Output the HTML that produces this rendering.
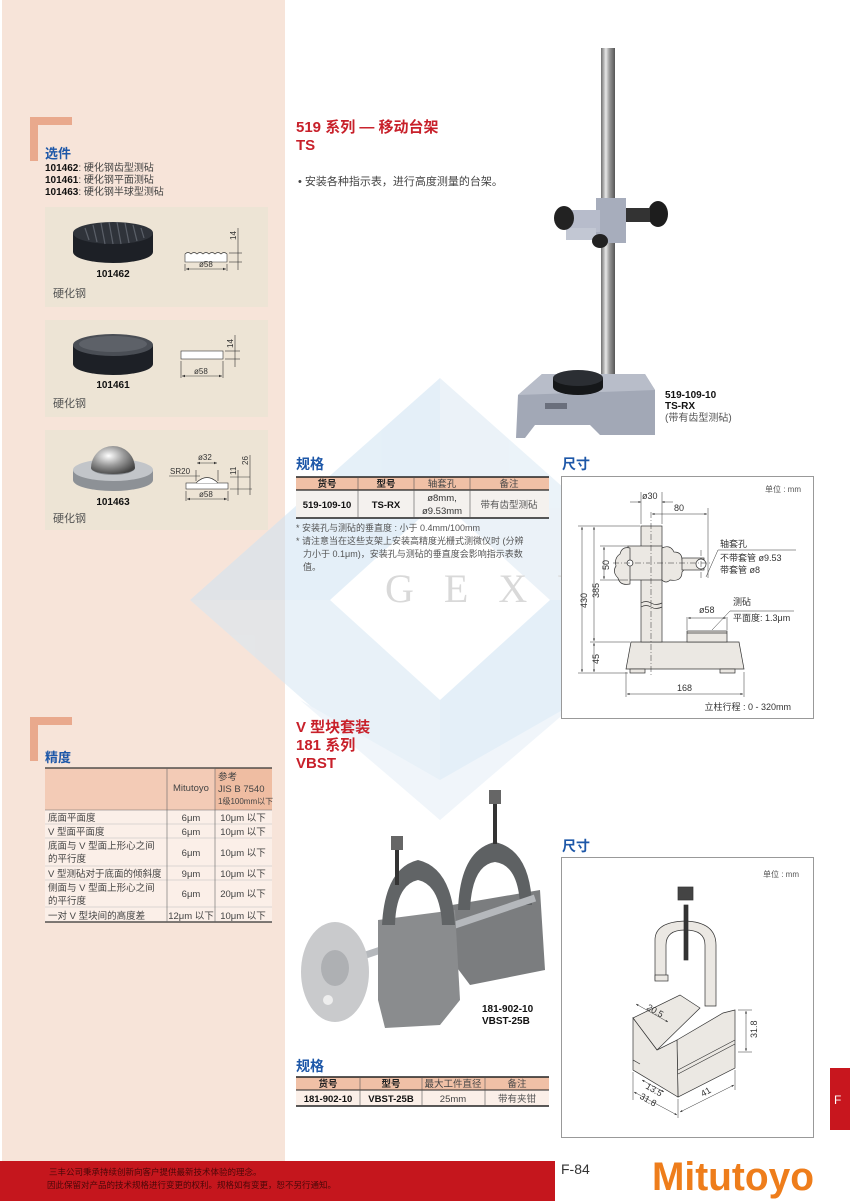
<!DOCTYPE html>
<html><head><meta charset="utf-8"><style>
html,body{margin:0;padding:0;background:#fff}
svg{display:block}
text{font-family:"Liberation Sans","Noto Sans CJK SC",sans-serif}
</style></head><body>
<svg width="850" height="1201" viewBox="0 0 850 1201" xmlns="http://www.w3.org/2000/svg">
<defs>
<linearGradient id="pole" x1="0" x2="1"><stop offset="0" stop-color="#6f6f6f"/><stop offset=".35" stop-color="#e8e8e8"/><stop offset=".6" stop-color="#9a9a9a"/><stop offset="1" stop-color="#555"/></linearGradient>
<linearGradient id="steel" x1="0" x2="1"><stop offset="0" stop-color="#777"/><stop offset=".5" stop-color="#b8b8b8"/><stop offset="1" stop-color="#6a6a6a"/></linearGradient>
<radialGradient id="ball" cx=".4" cy=".35" r=".7"><stop offset="0" stop-color="#fff"/><stop offset=".5" stop-color="#9a9a9a"/><stop offset="1" stop-color="#444"/></radialGradient>
<marker id="ar" markerWidth="6" markerHeight="6" refX="5" refY="3" orient="auto-start-reverse"><path d="M0,1 L5,3 L0,5 z" fill="#333"/></marker>
</defs>

<!-- left panel -->
<rect x="2" y="0" width="283" height="1161" fill="#f7e4d9"/>

<!-- watermark -->
<g opacity="0.55">
<polygon points="440,378 190,600 330,600 440,500" fill="#cfe3f3"/>
<polygon points="440,378 690,600 550,600 440,500" fill="#dbe9f4"/>
<polygon points="190,600 440,820 440,700 330,600" fill="#d6e7f4"/>
<polygon points="690,600 440,820 440,700 550,600" fill="#cfe3f3"/>
<polygon points="300,700 440,820 580,700 440,780" fill="#e4eef7"/>
</g>
<text x="385" y="602" font-family="Liberation Serif,serif" font-size="40" fill="#d9d9d9" letter-spacing="30" style="font-family:'Liberation Serif',serif">GEXU</text>

<!-- 选件 -->
<rect x="30" y="117" width="42" height="8" fill="#e9a98d"/>
<rect x="30" y="117" width="8" height="44" fill="#e9a98d"/>
<text x="45" y="158" font-size="13" font-weight="bold" fill="#1d57a8">选件</text>
<g font-size="10" fill="#444">
<text x="45" y="171"><tspan font-weight="bold" fill="#111">101462</tspan>: 硬化钢齿型测砧</text>
<text x="45" y="183"><tspan font-weight="bold" fill="#111">101461</tspan>: 硬化钢平面测砧</text>
<text x="45" y="195"><tspan font-weight="bold" fill="#111">101463</tspan>: 硬化钢半球型测砧</text>
</g>

<!-- box 1 -->
<rect x="45" y="207" width="223" height="100" fill="#ede4d5"/>
<path d="M73,233 L73,252 A40,11 0 0 0 153,252 L153,233 Z" fill="#1d2026"/>
<ellipse cx="113" cy="233" rx="40" ry="11" fill="#2f333a"/>
<g stroke="#5a5f68" stroke-width="1.2">
<line x1="85" y1="228" x2="89" y2="240"/><line x1="93" y1="225" x2="97" y2="242"/><line x1="101" y1="223" x2="105" y2="244"/><line x1="109" y1="222" x2="113" y2="244"/><line x1="117" y1="222" x2="121" y2="244"/><line x1="125" y1="223" x2="129" y2="243"/><line x1="133" y1="225" x2="137" y2="241"/><line x1="141" y1="228" x2="144" y2="238"/>
</g>
<text x="113" y="277" font-size="10" font-weight="bold" text-anchor="middle" fill="#111">101462</text>
<text x="53" y="297" font-size="11" fill="#555">硬化钢</text>
<g stroke="#333" stroke-width=".6" fill="none">
<path d="M185,254 q3,-3 6,0 q3,-3 6,0 q3,-3 6,0 q3,-3 6,0 q3,-3 6,0 q3,-3 6,0 q3,-3 6,0 L227,262 L185,262 Z" fill="#fff"/>
<line x1="185" y1="264" x2="185" y2="271"/><line x1="227" y1="264" x2="227" y2="271"/>
<line x1="186" y1="269" x2="226" y2="269" marker-start="url(#ar)" marker-end="url(#ar)"/>
<line x1="229" y1="253" x2="242" y2="253"/><line x1="229" y1="262" x2="242" y2="262"/>
<line x1="238" y1="228" x2="238" y2="270"/>
</g>
<text x="199" y="267" font-size="8" fill="#333">ø58</text>
<text transform="translate(236,240) rotate(-90)" font-size="8" fill="#333">14</text>

<!-- box 2 -->
<rect x="45" y="320" width="223" height="97" fill="#ede4d5"/>
<path d="M73,345 L73,364 A40,11 0 0 0 153,364 L153,345 Z" fill="#1d2026"/>
<ellipse cx="113" cy="345" rx="40" ry="11" fill="#4a4e55"/>
<ellipse cx="113" cy="344" rx="34" ry="8" fill="#5d6168"/>
<text x="113" y="388" font-size="10" font-weight="bold" text-anchor="middle" fill="#111">101461</text>
<text x="53" y="407" font-size="11" fill="#555">硬化钢</text>
<g stroke="#333" stroke-width=".6" fill="none">
<rect x="181" y="351" width="42" height="8" fill="#fff"/>
<line x1="181" y1="361" x2="181" y2="378"/><line x1="223" y1="361" x2="223" y2="378"/>
<line x1="182" y1="376" x2="222" y2="376" marker-start="url(#ar)" marker-end="url(#ar)"/>
<line x1="225" y1="351" x2="240" y2="351"/><line x1="225" y1="359" x2="240" y2="359"/>
<line x1="235" y1="335" x2="235" y2="367"/>
</g>
<text x="194" y="374" font-size="8" fill="#333">ø58</text>
<text transform="translate(233,348) rotate(-90)" font-size="8" fill="#333">14</text>

<!-- box 3 -->
<rect x="45" y="430" width="223" height="100" fill="#ede4d5"/>
<path d="M73,470 L73,480 A40,11 0 0 0 153,480 L153,470 Z" fill="#8d9196"/>
<ellipse cx="113" cy="470" rx="40" ry="11" fill="#c2c5c9"/>
<ellipse cx="113" cy="468" rx="22" ry="7" fill="#8a8e93"/>
<path d="M91,468 A22,22 0 0 1 135,468 A22,6 0 0 1 91,468 Z" fill="url(#ball)"/>
<text x="113" y="505" font-size="10" font-weight="bold" text-anchor="middle" fill="#111">101463</text>
<text x="53" y="522" font-size="11" fill="#555">硬化钢</text>
<g stroke="#333" stroke-width=".6" fill="none">
<rect x="186" y="483" width="42" height="6" fill="#fff"/>
<path d="M196,483 Q207,472 218,483" fill="#fff"/>
<line x1="196" y1="470" x2="196" y2="481"/><line x1="218" y1="470" x2="218" y2="481"/>
<line x1="197" y1="463" x2="217" y2="463" marker-start="url(#ar)" marker-end="url(#ar)"/>
<line x1="186" y1="491" x2="186" y2="501"/><line x1="228" y1="491" x2="228" y2="501"/>
<line x1="187" y1="499" x2="227" y2="499" marker-start="url(#ar)" marker-end="url(#ar)"/>
<line x1="169" y1="476" x2="200" y2="476"/>
<line x1="230" y1="477" x2="250" y2="477"/><line x1="230" y1="489" x2="252" y2="489"/>
<line x1="238" y1="470" x2="238" y2="495"/><line x1="250" y1="455" x2="250" y2="495"/>
</g>
<text x="198" y="460" font-size="8" fill="#333">ø32</text>
<text x="170" y="474" font-size="8" fill="#333">SR20</text>
<text x="199" y="497" font-size="8" fill="#333">ø58</text>
<text transform="translate(236,475) rotate(-90)" font-size="8" fill="#333">11</text>
<text transform="translate(248,465) rotate(-90)" font-size="8" fill="#333">26</text>

<!-- 精度 -->
<rect x="30" y="717" width="42" height="8" fill="#e9a98d"/>
<rect x="30" y="717" width="8" height="44" fill="#e9a98d"/>
<text x="45" y="762" font-size="13" font-weight="bold" fill="#1d57a8">精度</text>
<rect x="45" y="768" width="227" height="42" fill="#f3cbb6"/>
<rect x="215" y="768" width="57" height="42" fill="#efbda2"/>
<rect x="45" y="810" width="227" height="112" fill="#fbefe8"/>
<g stroke="#666" stroke-width=".6">
<line x1="45" y1="768" x2="272" y2="768" stroke="#333" stroke-width="1.2"/>
<line x1="45" y1="810" x2="272" y2="810"/>
<line x1="45" y1="824" x2="272" y2="824" stroke="#bbb"/>
<line x1="45" y1="838" x2="272" y2="838" stroke="#bbb"/>
<line x1="45" y1="866" x2="272" y2="866" stroke="#bbb"/>
<line x1="45" y1="880" x2="272" y2="880" stroke="#bbb"/>
<line x1="45" y1="907" x2="272" y2="907" stroke="#bbb"/>
<line x1="45" y1="922" x2="272" y2="922" stroke="#333" stroke-width="1.2"/>
<line x1="167" y1="768" x2="167" y2="922"/>
<line x1="215" y1="768" x2="215" y2="922"/>
</g>
<g font-size="9.5" fill="#444">
<text x="173" y="791">Mitutoyo</text>
<text x="218" y="780">参考</text>
<text x="218" y="792">JIS B 7540</text>
<text x="218" y="804" font-size="8">1级100mm以下</text>
<text x="48" y="821">底面平面度</text>
<text x="48" y="835">V 型面平面度</text>
<text x="48" y="849">底面与 V 型面上形心之间</text>
<text x="48" y="862">的平行度</text>
<text x="48" y="877">V 型测砧对于底面的倾斜度</text>
<text x="48" y="891">侧面与 V 型面上形心之间</text>
<text x="48" y="904">的平行度</text>
<text x="48" y="919">一对 V 型块间的高度差</text>
<g text-anchor="middle">
<text x="191" y="821">6μm</text><text x="243" y="821">10μm 以下</text>
<text x="191" y="835">6μm</text><text x="243" y="835">10μm 以下</text>
<text x="191" y="856">6μm</text><text x="243" y="856">10μm 以下</text>
<text x="191" y="877">9μm</text><text x="243" y="877">10μm 以下</text>
<text x="191" y="897">6μm</text><text x="243" y="897">20μm 以下</text>
<text x="191" y="919">12μm 以下</text><text x="243" y="919">10μm 以下</text>
</g></g>

<!-- TS title -->
<text x="296" y="132" font-size="15" font-weight="bold" fill="#c8202a">519 系列 — 移动台架</text>
<text x="296" y="150" font-size="15" font-weight="bold" fill="#c8202a">TS</text>
<text x="298" y="185" font-size="11" fill="#444">• 安装各种指示表，进行高度测量的台架。</text>

<!-- stand photo -->
<rect x="601" y="48" width="14" height="336" fill="url(#pole)"/>
<polygon points="518,395 542,374 645,374 655,390 655,435 600,435 590,425 535,425 525,438 516,438" fill="#a2a8b6"/>
<polygon points="518,395 542,374 645,374 655,390" fill="#b8bdc9"/>
<rect x="545" y="403" width="22" height="6" fill="#6a6f7c"/>
<path d="M553,378 L553,387 A25,8 0 0 0 603,387 L603,378 Z" fill="#151719"/>
<ellipse cx="578" cy="378" rx="25" ry="8" fill="#2b2e33"/>
<rect x="596" y="198" width="30" height="45" fill="#a7adbc"/>
<rect x="570" y="210" width="30" height="22" fill="#b7bccb"/>
<rect x="566" y="228" width="30" height="12" fill="#c2c7d3"/>
<ellipse cx="564" cy="218" rx="10" ry="12" fill="#222"/>
<ellipse cx="658" cy="214" rx="10" ry="13" fill="#1d1d1d"/>
<rect x="626" y="208" width="24" height="14" fill="#333"/>
<ellipse cx="600" cy="241" rx="8" ry="7" fill="#222"/>
<text x="665" y="398" font-size="10" font-weight="bold" fill="#111">519-109-10</text>
<text x="665" y="409" font-size="10" font-weight="bold" fill="#111">TS-RX</text>
<text x="665" y="421" font-size="10" fill="#555">(带有齿型测砧)</text>

<!-- 规格 1 -->
<text x="296" y="469" font-size="14" font-weight="bold" fill="#1d57a8">规格</text>
<rect x="296" y="477" width="253" height="13" fill="#f0c0a6"/>
<rect x="296" y="490" width="253" height="28" fill="#f4f1ee"/>
<g stroke="#555" stroke-width=".6">
<line x1="296" y1="477" x2="549" y2="477" stroke="#222" stroke-width="1.5"/>
<line x1="296" y1="490" x2="549" y2="490" stroke="#222" stroke-width="1.2"/>
<line x1="296" y1="518" x2="549" y2="518" stroke="#222" stroke-width="1.5"/>
<line x1="358" y1="477" x2="358" y2="518"/><line x1="414" y1="477" x2="414" y2="518"/><line x1="470" y1="477" x2="470" y2="518"/>
</g>
<g font-size="9.5" text-anchor="middle">
<text x="327" y="487" font-weight="bold" fill="#222">货号</text>
<text x="386" y="487" font-weight="bold" fill="#222">型号</text>
<text x="442" y="487" fill="#444">轴套孔</text>
<text x="509" y="487" fill="#444">备注</text>
<text x="327" y="508" font-weight="bold" fill="#111">519-109-10</text>
<text x="386" y="508" font-weight="bold" fill="#111">TS-RX</text>
<text x="442" y="501" fill="#333">ø8mm,</text>
<text x="442" y="514" fill="#333">ø9.53mm</text>
<text x="509" y="508" fill="#555">带有齿型测砧</text>
</g>
<g font-size="9" fill="#555">
<text x="296" y="531">* 安装孔与测砧的垂直度 : 小于 0.4mm/100mm</text>
<text x="296" y="544">* 请注意当在这些支架上安装高精度光栅式测微仪时 (分辨</text>
<text x="303" y="557">力小于 0.1μm)，安装孔与测砧的垂直度会影响指示表数</text>
<text x="303" y="570">值。</text>
</g>

<!-- 尺寸 1 -->
<text x="562" y="469" font-size="14" font-weight="bold" fill="#1d57a8">尺寸</text>
<rect x="561.5" y="476.5" width="252" height="242" fill="#fff" stroke="#999"/>
<text x="801" y="492" font-size="8" fill="#555" text-anchor="end">单位 : mm</text>
<g stroke="#333" stroke-width=".7" fill="#ebe8e3">
<polygon points="631,642 739,642 744,669 626,669"/>
<rect x="630" y="669" width="15" height="4"/><rect x="720" y="669" width="15" height="4"/>
<rect x="687" y="631" width="40" height="11" fill="#ebe8e3"/>
<line x1="687" y1="633" x2="727" y2="633"/>
<rect x="641" y="526" width="21" height="116"/>
<path d="M641,603 q5,-3 10,0 t11,0" fill="none"/><path d="M641,607 q5,-3 10,0 t11,0" fill="none"/>
<rect x="628" y="546" width="34" height="34"/>
<path d="M630,548 q-8,-2 -10,6 q-6,4 -4,12 q-4,6 2,12 q2,8 12,6 z"/>
<circle cx="630" cy="563" r="3" fill="#fff"/>
<path d="M662,548 q8,-4 12,4 q8,0 8,8 q6,6 0,12 q0,10 -12,8 q-4,4 -8,0 z"/>
<rect x="682" y="558" width="22" height="12"/>
<circle cx="701" cy="564" r="5" fill="#fff"/>
</g>
<g stroke="#333" stroke-width=".5" fill="none" stroke-dasharray="6,2,1,2">
<line x1="651" y1="512" x2="651" y2="676"/>
<line x1="613" y1="563" x2="712" y2="563"/>
<line x1="701" y1="550" x2="701" y2="580"/>
</g>
<g stroke="#333" stroke-width=".5" fill="none">
<line x1="641" y1="492" x2="641" y2="524"/><line x1="662" y1="492" x2="662" y2="524"/>
<line x1="630" y1="502" x2="641" y2="502" marker-end="url(#ar)"/><line x1="673" y1="502" x2="662" y2="502" marker-end="url(#ar)"/>
<line x1="652" y1="514" x2="707" y2="514" marker-start="url(#ar)" marker-end="url(#ar)"/>
<line x1="708" y1="508" x2="708" y2="578"/>
<line x1="578" y1="526" x2="640" y2="526"/><line x1="578" y1="673" x2="628" y2="673"/>
<line x1="590" y1="642" x2="630" y2="642"/>
<line x1="582" y1="527" x2="582" y2="672" marker-start="url(#ar)" marker-end="url(#ar)"/>
<line x1="594" y1="527" x2="594" y2="641" marker-start="url(#ar)" marker-end="url(#ar)"/>
<line x1="594" y1="643" x2="594" y2="672" marker-start="url(#ar)" marker-end="url(#ar)"/>
<line x1="600" y1="546" x2="628" y2="546"/><line x1="600" y1="580" x2="628" y2="580"/>
<line x1="604" y1="547" x2="604" y2="579" marker-start="url(#ar)" marker-end="url(#ar)"/>
<line x1="626" y1="672" x2="626" y2="697"/><line x1="744" y1="672" x2="744" y2="697"/>
<line x1="627" y1="694" x2="743" y2="694" marker-start="url(#ar)" marker-end="url(#ar)"/>
<line x1="687" y1="617" x2="687" y2="630"/><line x1="727" y1="617" x2="727" y2="630"/>
<line x1="688" y1="618" x2="726" y2="618" marker-start="url(#ar)" marker-end="url(#ar)"/>
<line x1="706" y1="577" x2="718" y2="550"/><line x1="718" y1="550" x2="796" y2="550"/>
<line x1="712" y1="630" x2="730" y2="611"/><line x1="730" y1="611" x2="794" y2="611"/>
</g>
<g font-size="9" fill="#333">
<text x="642" y="499">ø30</text>
<text x="674" y="511">80</text>
<text transform="translate(587,608) rotate(-90)">430</text>
<text transform="translate(599,598) rotate(-90)">385</text>
<text transform="translate(609,570) rotate(-90)">50</text>
<text transform="translate(599,664) rotate(-90)">45</text>
<text x="677" y="691">168</text>
<text x="699" y="613">ø58</text>
<text x="720" y="547">轴套孔</text>
<text x="720" y="561">不带套管 ø9.53</text>
<text x="720" y="573">带套管 ø8</text>
<text x="733" y="605">测砧</text>
<text x="733" y="621">平面度: 1.3μm</text>
<text x="791" y="710" text-anchor="end">立柱行程 : 0 - 320mm</text>
</g>

<!-- V block title -->
<text x="296" y="732" font-size="15" font-weight="bold" fill="#c8202a">V 型块套装</text>
<text x="296" y="750" font-size="15" font-weight="bold" fill="#c8202a">181 系列</text>
<text x="296" y="768" font-size="15" font-weight="bold" fill="#c8202a">VBST</text>

<!-- V block photo -->
<polygon points="452,905 540,890 545,970 470,985 455,965" fill="#7b7d7f"/>
<path d="M458,910 Q460,850 495,842 Q530,850 532,905 L520,905 Q518,865 495,862 Q472,865 470,910 Z" fill="#5e6163"/>
<rect x="489" y="790" width="12" height="14" fill="#666"/><rect x="493" y="804" width="4" height="40" fill="#333"/>
<line x1="345" y1="962" x2="535" y2="898" stroke="#b5b8bc" stroke-width="7"/>
<polygon points="378,920 455,910 460,1000 440,1025 385,1028 378,1000" fill="#8a8c8e"/>
<path d="M382,925 Q385,868 418,860 Q452,868 455,925 L442,925 Q440,885 418,880 Q396,885 395,925 Z" fill="#616466"/>
<rect x="391" y="836" width="12" height="14" fill="#666"/><rect x="395" y="850" width="4" height="35" fill="#333"/>
<ellipse cx="335" cy="972" rx="34" ry="50" fill="#c9cacc"/>
<ellipse cx="335" cy="968" rx="14" ry="18" fill="#aeb0b3"/>
<circle cx="328" cy="1000" r="5" fill="#eee"/>
<text x="482" y="1012" font-size="10" font-weight="bold" fill="#111">181-902-10</text>
<text x="482" y="1024" font-size="10" font-weight="bold" fill="#111">VBST-25B</text>

<!-- 尺寸 2 -->
<text x="562" y="851" font-size="14" font-weight="bold" fill="#1d57a8">尺寸</text>
<rect x="561.5" y="857.5" width="252" height="280" fill="#fff" stroke="#999"/>
<text x="799" y="877" font-size="8" fill="#555" text-anchor="end">单位 : mm</text>
<g stroke="#333" stroke-width=".7" fill="#ebe8e3">
<path d="M655,980 L655,940 Q655,922 685,921 Q716,922 716,945 L716,1006 L705,1006 L705,945 Q705,930 685,930 Q666,930 666,945 L666,980 Z"/>
<rect x="655" y="975" width="13" height="6"/>
<rect x="684" y="905" width="4" height="55" fill="#333"/>
<rect x="678" y="887" width="15" height="13" fill="#444"/>
<polygon points="633,1018 680,995 700,1008 657,1050"/>
<polygon points="677,1040 723,1013 735,1010 735,1068 678,1097"/>
<polygon points="633,1018 657,1050 677,1040 678,1097 633,1070"/>
<line x1="678" y1="1070" x2="735" y2="1040"/><line x1="678" y1="1074" x2="735" y2="1044"/>
<line x1="633" y1="1060" x2="640" y2="1064"/>
</g>
<g stroke="#333" stroke-width=".5" fill="none">
<line x1="738" y1="1010" x2="752" y2="1010"/><line x1="738" y1="1052" x2="752" y2="1052"/>
<line x1="746" y1="1011" x2="746" y2="1051" marker-start="url(#ar)" marker-end="url(#ar)"/>
<line x1="636" y1="1004" x2="668" y2="1022" marker-start="url(#ar)" marker-end="url(#ar)"/>
<line x1="633" y1="1072" x2="633" y2="1100"/><line x1="678" y1="1099" x2="678" y2="1118"/><line x1="735" y1="1070" x2="735" y2="1090"/>
<line x1="634" y1="1092" x2="677" y2="1115" marker-start="url(#ar)" marker-end="url(#ar)"/>
<line x1="642" y1="1080" x2="664" y2="1092" marker-start="url(#ar)" marker-end="url(#ar)"/>
<line x1="680" y1="1112" x2="734" y2="1085" marker-start="url(#ar)" marker-end="url(#ar)"/>
</g>
<g font-size="9" fill="#333">
<text transform="translate(646,1009) rotate(30)">20.5</text>
<text transform="translate(757,1038) rotate(-90)">31.8</text>
<text transform="translate(645,1088) rotate(30)">13.5</text>
<text transform="translate(639,1098) rotate(30)">31.8</text>
<text transform="translate(703,1097) rotate(-30)">41</text>
</g>

<!-- 规格 2 -->
<text x="296" y="1071" font-size="14" font-weight="bold" fill="#1d57a8">规格</text>
<rect x="296" y="1077" width="253" height="13" fill="#f0c0a6"/>
<rect x="296" y="1090" width="253" height="16" fill="#fbefe8"/>
<g stroke="#555" stroke-width=".6">
<line x1="296" y1="1077" x2="549" y2="1077" stroke="#222" stroke-width="1.5"/>
<line x1="296" y1="1090" x2="549" y2="1090" stroke="#222" stroke-width="1"/>
<line x1="296" y1="1106" x2="549" y2="1106" stroke="#222" stroke-width="1.5"/>
<line x1="360" y1="1077" x2="360" y2="1106"/><line x1="422" y1="1077" x2="422" y2="1106"/><line x1="485" y1="1077" x2="485" y2="1106"/>
</g>
<g font-size="9.5" text-anchor="middle">
<text x="328" y="1087" font-weight="bold" fill="#222">货号</text>
<text x="391" y="1087" font-weight="bold" fill="#222">型号</text>
<text x="453" y="1087" fill="#444">最大工件直径</text>
<text x="517" y="1087" fill="#444">备注</text>
<text x="328" y="1102" font-weight="bold" fill="#111">181-902-10</text>
<text x="391" y="1102" font-weight="bold" fill="#111">VBST-25B</text>
<text x="453" y="1102" fill="#444">25mm</text>
<text x="517" y="1102" fill="#555">带有夹钳</text>
</g>

<!-- F tab -->
<rect x="830" y="1068" width="20" height="62" fill="#c8161e"/>
<text x="834" y="1104" font-size="12" fill="#fff">F</text>

<!-- footer -->
<rect x="0" y="1161" width="555" height="40" fill="#c5161d"/>
<text x="49" y="1175" font-size="8.5" fill="#4a0808">三丰公司秉承持续创新向客户提供最新技术体验的理念。</text>
<text x="47" y="1188" font-size="8.5" fill="#4a0808">因此保留对产品的技术规格进行变更的权利。规格如有变更，恕不另行通知。</text>
<text x="561" y="1174" font-size="14" fill="#333">F-84</text>
<text x="652" y="1190" font-size="40" font-weight="bold" fill="#ee7d1b" textLength="162" lengthAdjust="spacingAndGlyphs">Mitutoyo</text>
</svg>
</body></html>
